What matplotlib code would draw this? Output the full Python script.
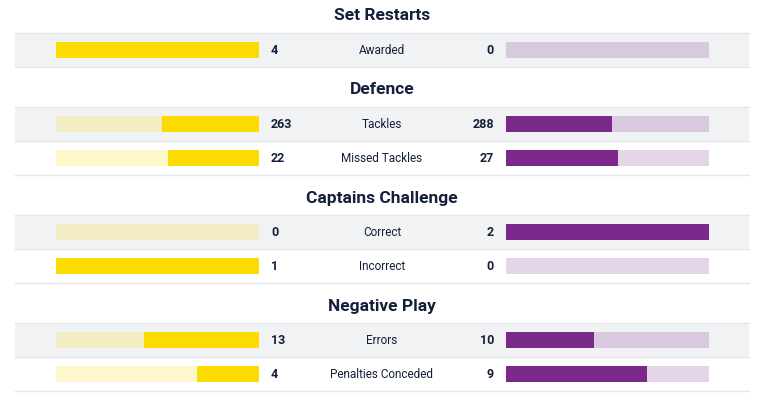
import matplotlib
matplotlib.use("Agg")
import matplotlib.pyplot as plt
from matplotlib.patches import Rectangle
from matplotlib.lines import Line2D

# ---- data ----
sections = ["Set Restarts", "Defence", "Captains Challenge", "Negative Play"]
section_rows = [1, 2, 2, 2]
stats = ["Awarded", "Tackles", "Missed Tackles", "Correct", "Incorrect",
         "Errors", "Penalties Conceded"]
home = [4, 263, 22, 0, 1, 13, 4]
away = [0, 288, 27, 2, 0, 10, 9]

# ---- style ----
YELLOW = "#FCDC00"
PURPLE = "#7A298B"
TEXT = "#14203A"
GREY_ROW = "#F1F2F4"
SEP = "#E4E6EA"
W, H = 772, 395
plt.rcParams["font.family"] = ["Roboto", "DejaVu Sans"]

fig = plt.figure(figsize=(W / 100, H / 100), dpi=100)
fig.patch.set_facecolor("white")
base = fig.add_axes([0, 0, 1, 1])
base.set_xlim(0, W)
base.set_ylim(H, 0)
base.axis("off")

row_h = 34
head_h = 32
row_x0, row_x1 = 15, 749
cx = (row_x0 + row_x1) / 2
bar_h = 16

y = 0
head_y = []
row_y = []
for s, n in zip(sections, section_rows):
    head_y.append(y + 14.5)
    y += head_h + 0.5
    for i in range(n):
        row_y.append((y, i == 0))
        y += row_h
    y += 7.5

def fx(px):
    return px / W

lx0, lx1 = 56, 259
rx0, rx1 = 506, 709
axL = fig.add_axes([fx(lx0), 0, fx(lx1) - fx(lx0), 1])
axR = fig.add_axes([fx(rx0), 0, fx(rx1) - fx(rx0), 1])
for a in (axL, axR):
    a.set_ylim(H, 0)
    a.axis("off")
    a.patch.set_alpha(0)
axL.set_xlim(1, 0)
axR.set_xlim(0, 1)

for (y0, grey) in row_y:
    if grey:
        base.add_patch(Rectangle((row_x0, y0), row_x1 - row_x0, row_h,
                                 facecolor=GREY_ROW, edgecolor="none", zorder=0))
        base.add_line(Line2D([row_x0, row_x1], [y0, y0], color=SEP, lw=1, zorder=1))
    base.add_line(Line2D([row_x0, row_x1], [y0 + row_h, y0 + row_h], color=SEP, lw=1, zorder=1))

for s, hy in zip(sections, head_y):
    base.text(cx, hy, s, ha="center", va="center_baseline", fontsize=12.5,
              fontweight="bold", color=TEXT)

centers = [y0 + row_h / 2 for (y0, g) in row_y]
for i, (st, h, a) in enumerate(zip(stats, home, away)):
    c = centers[i]
    tot = h + a
    hs = h / tot if tot else 0
    as_ = a / tot if tot else 0
    axL.barh(c, 1, height=bar_h, color=YELLOW, alpha=0.2, lw=0)
    axL.barh(c, hs, height=bar_h, color=YELLOW, lw=0)
    axR.barh(c, 1, height=bar_h, color=PURPLE, alpha=0.2, lw=0)
    axR.barh(c, as_, height=bar_h, color=PURPLE, lw=0)
    base.text(cx, c, st, ha="center", va="center_baseline", fontsize=8.5, color=TEXT)
    base.text(271, c, str(h), ha="left", va="center_baseline", fontsize=9,
              fontweight="bold", color=TEXT)
    base.text(494, c, str(a), ha="right", va="center_baseline", fontsize=9,
              fontweight="bold", color=TEXT)

fig.savefig("out.png", dpi=100, facecolor="white")
